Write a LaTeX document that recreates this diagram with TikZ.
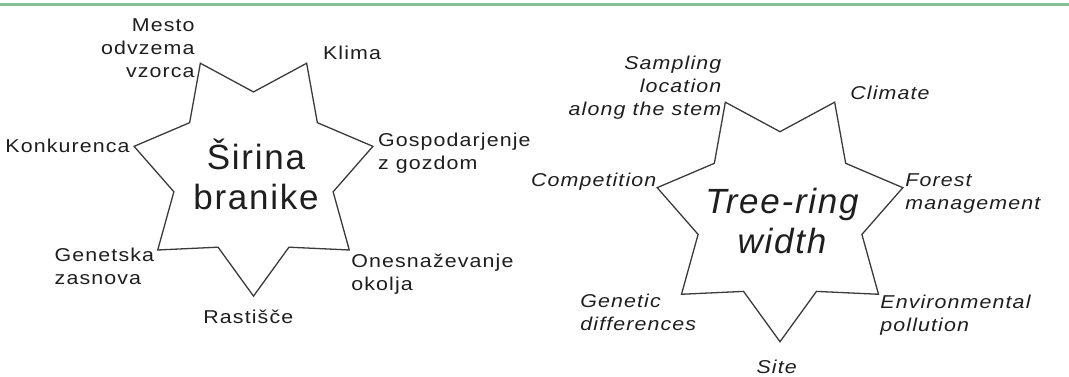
\documentclass[tikz,border=0pt]{standalone}
\usepackage{fontspec}
\setmainfont{Liberation Sans}[FakeStretch=1.15, LetterSpace=6]
\newfontfamily\bigfont{Liberation Sans}[LetterSpace=5]
\usetikzlibrary{shapes.geometric, positioning}
\definecolor{inkgray}{HTML}{1E1E1E}
\definecolor{linegray}{HTML}{3A3A3A}
\definecolor{rulegreen}{HTML}{86BF93}
\tikzset{
  lbl/.style={
    inner sep=0pt, text=inkgray,
    font=\fontsize{9.3pt}{11.5pt}\selectfont
  },
  lbll/.style={lbl, align=left, anchor=west},
  lblr/.style={lbl, align=right, anchor=east},
  lblc/.style={lbl, align=center},
  bigtext/.style={
    inner sep=0pt, text=inkgray, align=center,
    font=\bigfont\fontsize{17.5pt}{20pt}\selectfont
  },
  starbox/.style={
    star, star points=7, star point ratio=1.5,
    shape border rotate=180, draw=linegray, line width=0.65pt,
    inner sep=0pt, minimum size=#1
  },
  topline/.style={draw=rulegreen, line width=1.1pt}
}
\begin{document}
\begin{tikzpicture}[x=0.5pt, y=-0.5pt]
  \useasboundingbox (0,0) rectangle (1069,376);

  % Rule at the top
  \coordinate (rulel) at (0,4.5);
  \coordinate (ruler) at (1069,4.5);
  \draw[topline] (rulel) -- (ruler);

  % Slovene star
  \node[starbox=122.5pt] (star1) at (253.5,173.6) {};
  \node[bigtext] (sirina) at (256,174) {Širina\\branike};

  \node[lblr] (mesto) at (195,47.7) {Mesto\\odvzema\\vzorca};
  \node[lbll] (klima) at (322.7,53.3) {Klima};
  \node[lbll] (gosp) at (377.7,153) {Gospodarjenje\\z gozdom};
  \node[lblr] (konk) at (130,145.7) {Konkurenca};
  \node[lbll] (genet) at (54.3,266.3) {Genetska\\zasnova};
  \node[lblc] (rast) at (248.3,316.7) {Rastišče};
  \node[lbll] (ones) at (351,274.5) {Onesnaževanje\\okolja};

  % English star
  \node[starbox=126pt] (star2) at (780,215.7) {};
  \node[bigtext, font=\bigfont\itshape\fontsize{17.5pt}{20pt}\selectfont]
    (treering) at (782,221) {Tree-ring\\width};

  \node[lblr, font=\itshape\fontsize{9.3pt}{11.5pt}\selectfont]
    (sampling) at (721.7,87.5) {Sampling\\location\\along the stem};
  \node[lbll, font=\itshape\fontsize{9.3pt}{11.5pt}\selectfont]
    (climate) at (850,92.7) {Climate};
  \node[lbll, font=\itshape\fontsize{9.3pt}{11.5pt}\selectfont]
    (forest) at (905,193.3) {Forest\\management};
  \node[lblr, font=\itshape\fontsize{9.3pt}{11.5pt}\selectfont]
    (compet) at (656.7,181.7) {Competition};
  \node[lbll, font=\itshape\fontsize{9.3pt}{11.5pt}\selectfont]
    (genetic) at (580,312.5) {Genetic\\differences};
  \node[lblc, font=\itshape\fontsize{9.3pt}{11.5pt}\selectfont]
    (site) at (776.7,366.7) {Site};
  \node[lbll, font=\itshape\fontsize{9.3pt}{11.5pt}\selectfont]
    (environ) at (880,315) {Environmental\\pollution};
\end{tikzpicture}
\end{document}
